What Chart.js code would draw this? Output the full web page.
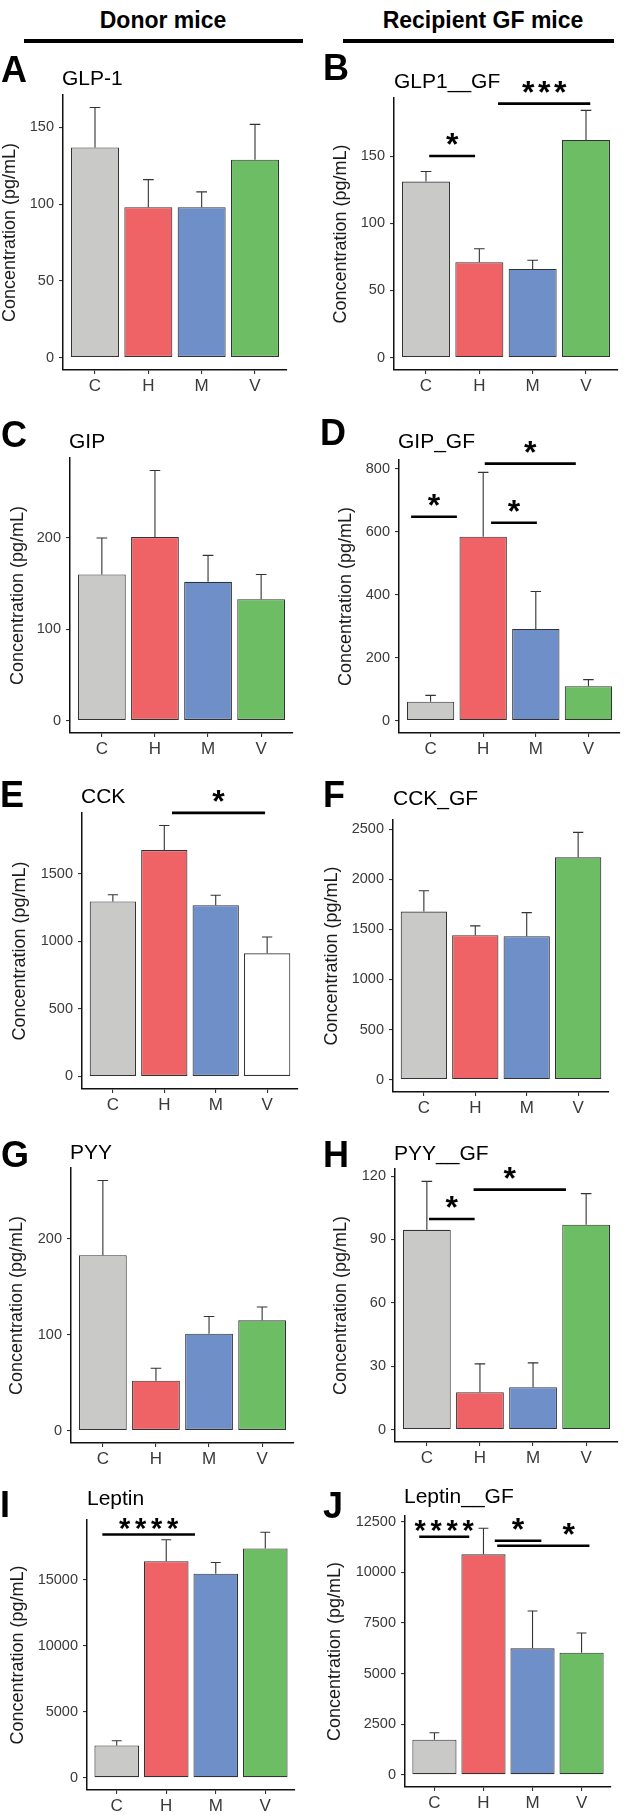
<!DOCTYPE html>
<html>
<head>
<meta charset="utf-8">
<script src="https://cdn.jsdelivr.net/npm/chart.js@4.4.1/dist/chart.umd.min.js"></script>
<style>
    html, body { margin: 0; padding: 0; background: #fff; }
    #fig { position: relative; width: 624px; height: 1815px; overflow: hidden; font-family: "Liberation Sans", Arial, Helvetica, sans-serif; }
    #fig canvas { position: absolute; }
    .txt { position: absolute; white-space: nowrap; line-height: 1; color: #000; }
    .rule { position: absolute; height: 4px; background: #000; }
</style>
</head>
<body>
<div id="fig"></div>
<script>
const groups = ['C', 'H', 'M', 'V'];

// A - GLP-1 donor
const glp1Mean = [137, 98, 98, 129];
const glp1Upper = [163, 116, 108, 152];
const glp1Ticks = [0, 50, 100, 150];

// B - GLP1 GF
const glp1GfMean = [131, 71, 66, 162];
const glp1GfUpper = [138.5, 81, 72.5, 184];
const glp1GfTicks = [0, 50, 100, 150];
const glp1GfSig = [
    { from: 0.06, to: 0.92, y: 150, label: '*' },
    { from: 1.35, to: 3.08, y: 189, label: '***' }
];

// C - GIP donor
const gipMean = [160, 201, 152, 133];
const gipUpper = [200, 274, 181, 160];
const gipTicks = [0, 100, 200];

// D - GIP GF
const gipGfMean = [60, 584, 291, 109];
const gipGfUpper = [80, 788, 410, 130];
const gipGfTicks = [0, 200, 400, 600, 800];
const gipGfSig = [
    { from: -0.37, to: 0.5, y: 647, label: '*' },
    { from: 1.15, to: 2.02, y: 628, label: '*' },
    { from: 1.03, to: 2.76, y: 816, label: '*' }
];

// E - CCK donor
const cckMean = [1294, 1674, 1266, 910];
const cckUpper = [1343, 1855, 1340, 1031];
const cckTicks = [0, 500, 1000, 1500];
const cckSig = [{ from: 1.15, to: 2.96, y: 1949, label: '*' }];

// F - CCK GF
const cckGfMean = [1677, 1441, 1431, 2218];
const cckGfUpper = [1884, 1534, 1666, 2467];
const cckGfTicks = [0, 500, 1000, 1500, 2000, 2500];

// G - PYY donor
const pyyMean = [183, 52, 101, 115];
const pyyUpper = [261, 65, 119, 129];
const pyyTicks = [0, 100, 200];

// H - PYY GF
const pyyGfMean = [94.6, 17.7, 20.1, 97];
const pyyGfUpper = [117.5, 31.1, 31.6, 111.7];
const pyyGfTicks = [0, 30, 60, 90, 120];
const pyyGfSig = [
    { from: 0.04, to: 0.9, y: 99.7, label: '*' },
    { from: 0.88, to: 2.62, y: 113.6, label: '*', at: 1.56 }
];

// I - Leptin donor
const leptinMean = [2450, 16400, 15450, 17360];
const leptinUpper = [2800, 18020, 16300, 18590];
const leptinTicks = [0, 5000, 10000, 15000];
const leptinSig = [{ from: -0.29, to: 1.58, y: 18420, label: '****' }];

// J - Leptin GF
const leptinGfMean = [1730, 10890, 6245, 6030];
const leptinGfUpper = [2075, 12175, 8090, 7000];
const leptinGfTicks = [0, 2500, 5000, 7500, 10000, 12500];
const leptinGfSig = [
    { from: -0.31, to: 0.71, y: 11760, label: '****' },
    { from: 1.23, to: 2.18, y: 11560, label: '*' },
    { from: 1.28, to: 3.16, y: 11315, label: '*', at: 2.74 }
];

const FONT = '"Liberation Sans", Arial, Helvetica, sans-serif';
const fills = ['#c9c9c7', '#ef6367', '#6f8fc8', '#6dbd65'];
const fig = document.getElementById('fig');

// panel layout (pixel boxes of each ggplot panel)
const panels = [
    { letter: 'A', title: 'GLP-1', mean: glp1Mean, upper: glp1Upper, ticks: glp1Ticks, sig: [],
      col: 0, axisX: 63, top: 95, right: 287, bottom: 370, yTitleX: 10, letterAt: [1, 82], titleAt: [62, 85] },
    { letter: 'B', title: 'GLP1__GF', mean: glp1GfMean, upper: glp1GfUpper, ticks: glp1GfTicks, sig: glp1GfSig,
      col: 312, axisX: 394, top: 98, right: 618, bottom: 370, yTitleX: 341.5, letterAt: [323, 80], titleAt: [394, 88] },
    { letter: 'C', title: 'GIP', mean: gipMean, upper: gipUpper, ticks: gipTicks, sig: [],
      col: 0, axisX: 70, top: 458, right: 293, bottom: 733, yTitleX: 18, letterAt: [1, 447], titleAt: [69, 448] },
    { letter: 'D', title: 'GIP_GF', mean: gipGfMean, upper: gipGfUpper, ticks: gipGfTicks, sig: gipGfSig,
      col: 312, axisX: 399, top: 460, right: 620, bottom: 733, yTitleX: 346.5, letterAt: [320, 445], titleAt: [398, 448] },
    { letter: 'E', title: 'CCK', mean: cckMean, upper: cckUpper, ticks: cckTicks, sig: cckSig,
      col: 0, axisX: 82, top: 813, right: 298, bottom: 1089, yTitleX: 20, letterAt: [0, 807], titleAt: [81, 803],
      fills: ['#c9c9c7', '#ef6367', '#6f8fc8', '#ffffff'] },
    { letter: 'F', title: 'CCK_GF', mean: cckGfMean, upper: cckGfUpper, ticks: cckGfTicks, sig: [],
      col: 312, axisX: 393, top: 820, right: 609, bottom: 1092, yTitleX: 332, letterAt: [323, 807], titleAt: [393, 805] },
    { letter: 'G', title: 'PYY', mean: pyyMean, upper: pyyUpper, ticks: pyyTicks, sig: [],
      col: 0, axisX: 71, top: 1168, right: 294, bottom: 1443, yTitleX: 17.5, letterAt: [1, 1167], titleAt: [70, 1159] },
    { letter: 'H', title: 'PYY__GF', mean: pyyGfMean, upper: pyyGfUpper, ticks: pyyGfTicks, sig: pyyGfSig,
      col: 312, axisX: 395, top: 1169, right: 618, bottom: 1442, yTitleX: 341.5, letterAt: [323, 1167], titleAt: [394, 1160] },
    { letter: 'I', title: 'Leptin', mean: leptinMean, upper: leptinUpper, ticks: leptinTicks, sig: leptinSig,
      col: 0, axisX: 87, top: 1520, right: 295, bottom: 1790, yTitleX: 18.5, letterAt: [0, 1517], titleAt: [87, 1505] },
    { letter: 'J', title: 'Leptin__GF', mean: leptinGfMean, upper: leptinGfUpper, ticks: leptinGfTicks, sig: leptinGfSig,
      col: 312, axisX: 405, top: 1516, right: 611, bottom: 1787, yTitleX: 335.5, letterAt: [323, 1518], titleAt: [404, 1503] }
];

function addText(str, x, baseline, size, weight, center) {
    const d = document.createElement('div');
    d.className = 'txt';
    d.textContent = str;
    d.style.fontSize = size + 'px';
    d.style.fontWeight = weight;
    d.style.top = (baseline - 0.8465 * size) + 'px';
    d.style.left = x + 'px';
    if (center) d.style.transform = 'translateX(-50%)';
    fig.appendChild(d);
}

function addRule(x1, x2, y) {
    const d = document.createElement('div');
    d.className = 'rule';
    d.style.left = x1 + 'px';
    d.style.width = (x2 - x1) + 'px';
    d.style.top = (y - 2) + 'px';
    fig.appendChild(d);
}

// error bars + significance brackets drawn through the chart scales
function overlay(p) {
    return {
        id: 'overlay' + p.letter,
        afterDatasetsDraw(chart) {
            const { ctx, scales: { x, y } } = chart;
            ctx.save();
            ctx.strokeStyle = '#333';
            ctx.lineWidth = 1.1;
            const cap = x.getPixelForValue(0.1) - x.getPixelForValue(0);
            p.upper.forEach((u, i) => {
                const xp = x.getPixelForValue(i);
                const y0 = y.getPixelForValue(p.mean[i]);
                const y1 = y.getPixelForValue(u);
                ctx.beginPath();
                ctx.moveTo(xp, y0); ctx.lineTo(xp, y1);
                ctx.moveTo(xp - cap, y1); ctx.lineTo(xp + cap, y1);
                ctx.stroke();
            });

            ctx.strokeStyle = '#000';
            ctx.fillStyle = '#000';
            ctx.lineWidth = 2.6;
            p.sig.forEach(s => {
                const yl = y.getPixelForValue(s.y);
                ctx.beginPath();
                ctx.moveTo(x.getPixelForValue(s.from), yl);
                ctx.lineTo(x.getPixelForValue(s.to), yl);
                ctx.stroke();

                const n = s.label.length;
                ctx.font = 'bold ' + (n > 3 ? 29 : 32) + 'px ' + FONT;
                ctx.textAlign = 'center';
                ctx.textBaseline = 'alphabetic';
                const m = ctx.measureText('*');
                const cy = yl - (n > 3 ? 11 : 17);
                const base = cy + (m.actualBoundingBoxAscent - m.actualBoundingBoxDescent) / 2;
                const cx = x.getPixelForValue(s.at !== undefined ? s.at : (s.from + s.to) / 2);
                for (let k = 0; k < n; k++) {
                    ctx.fillText('*', cx + (k - (n - 1) / 2) * 16, base);
                }
            });
            ctx.restore();
        }
    };
}

function drawPanel(p) {
    const W = 312, padTop = 60, xH = 32;
    const H = p.bottom - p.top + padTop + xH;
    const cv = document.createElement('canvas');
    cv.width = W; cv.height = H;
    cv.style.left = p.col + 'px';
    cv.style.top = (p.top - padTop) + 'px';
    cv.style.width = W + 'px';
    cv.style.height = H + 'px';
    fig.appendChild(cv);

    const maxVal = Math.max(...p.upper);
    const axisGrid = { display: true, drawOnChartArea: false, drawTicks: true, tickLength: 4, color: '#333', lineWidth: 1.1, offset: false };
    const axisBorder = { display: true, color: '#111', width: 1.5 };

    new Chart(cv, {
        type: 'bar',
        data: {
            datasets: [{
                data: p.mean.map((v, i) => ({ x: i, y: v })),
                backgroundColor: p.fills || fills,
                borderColor: '#333',
                borderWidth: 1.1,
                borderSkipped: false,
                barPercentage: 0.9,
                categoryPercentage: 1
            }]
        },
        options: {
            responsive: false,
            animation: false,
            devicePixelRatio: 1,
            layout: { padding: { left: 0, top: padTop, right: p.col + W - p.right, bottom: 0 } },
            plugins: { legend: { display: false }, tooltip: { enabled: false }, title: { display: false } },
            scales: {
                x: {
                    type: 'linear', min: -0.6, max: 3.6, offset: false,
                    afterBuildTicks: s => { s.ticks = groups.map((g, i) => ({ value: i })); },
                    afterFit: s => { s.height = xH; },
                    ticks: { callback: v => groups[v], color: '#3a3a3a', font: { family: FONT, size: 17 }, padding: 2, maxRotation: 0, autoSkip: false },
                    grid: axisGrid,
                    border: axisBorder
                },
                y: {
                    type: 'linear', min: -0.05 * maxVal, max: 1.05 * maxVal,
                    afterBuildTicks: s => { s.ticks = p.ticks.map(v => ({ value: v })); },
                    afterFit: s => { s.width = p.axisX - p.col; },
                    ticks: { callback: v => String(v), color: '#3a3a3a', font: { family: FONT, size: 14.5 }, padding: 5 },
                    grid: axisGrid,
                    border: axisBorder,
                    title: {
                        display: true, text: 'Concentration (pg/mL)', color: '#1a1a1a',
                        font: { family: FONT, size: 18, lineHeight: 1 },
                        padding: { top: p.yTitleX - p.col - 9, bottom: 0 }
                    }
                }
            }
        },
        plugins: [overlay(p)]
    });

    addText(p.letter, p.letterAt[0], p.letterAt[1], 36, 'bold', false);
    addText(p.title, p.titleAt[0], p.titleAt[1], 21, 'normal', false);
}

// column headers
addText('Donor mice', 163, 28, 23, 'bold', true);
addText('Recipient GF mice', 483, 28, 23, 'bold', true);
addRule(24, 303, 41);
addRule(343, 614, 41);

panels.forEach(drawPanel);
</script>
</body>
</html>
